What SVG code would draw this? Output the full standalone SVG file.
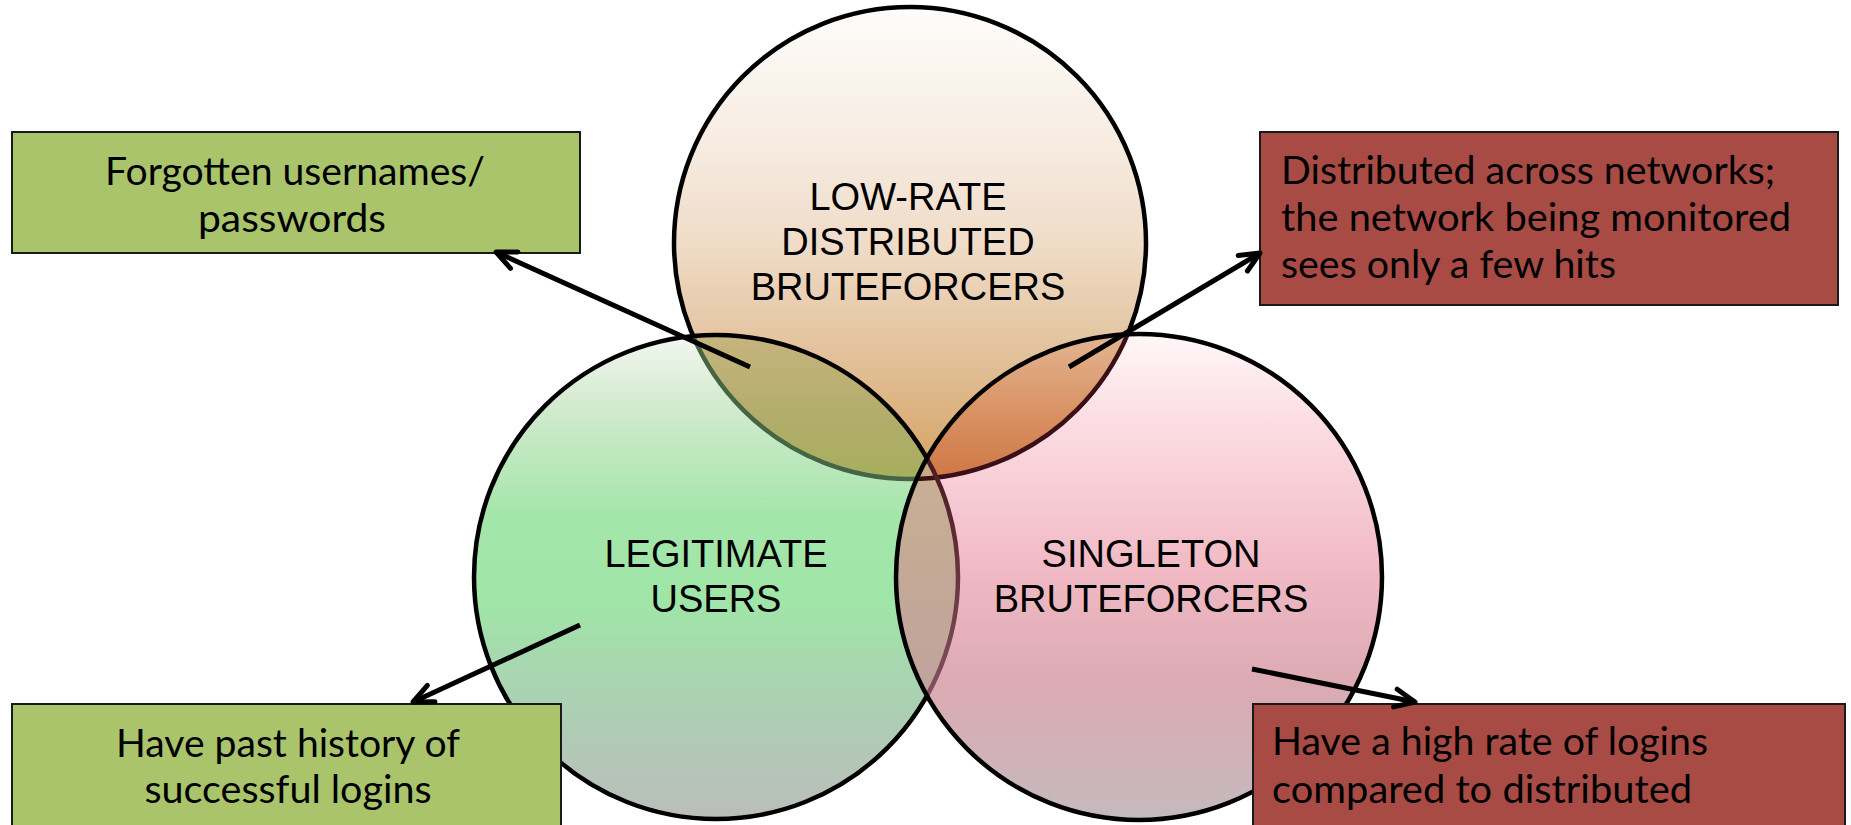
<svg xmlns="http://www.w3.org/2000/svg" width="1851" height="825" viewBox="0 0 1851 825">
  <style>
    .ring { fill: none; stroke: #000; stroke-width: 4.5; }
    .label { font-family: "Liberation Sans", Arial, sans-serif; font-size: 38px; fill: #000; text-anchor: middle; }
    .note { font-family: Lato, "Open Sans", sans-serif; font-size: 39px; fill: #000; }
    .note-c { text-anchor: middle; }
    .box-green { fill: #aac46c; stroke: #1a1a1a; stroke-width: 2; }
    .box-red { fill: #a84b45; stroke: #1a1a1a; stroke-width: 2; }
    .arrow { fill: none; stroke: #000; stroke-width: 5; marker-end: url(#chevron); }
  </style>
  <defs>
    <marker id="chevron" viewBox="-4 -4 30 26" refX="20" refY="9" markerWidth="30" markerHeight="26" markerUnits="userSpaceOnUse" orient="auto" overflow="visible">
      <path d="M0,0 L20,9 L0,18" fill="none" stroke="#000" stroke-width="5" stroke-linecap="round" stroke-linejoin="round"/>
    </marker>

    <!-- circle shapes reused for fills, strokes and clipping -->
    <circle id="shapeTop" cx="910" cy="243" r="236"/>
    <circle id="shapeLeft" cx="716" cy="577" r="242"/>
    <circle id="shapeRight" cx="1139" cy="577" r="243"/>

    <clipPath id="inLeft"><use href="#shapeLeft"/></clipPath>
    <clipPath id="inRight"><use href="#shapeRight"/></clipPath>

    <linearGradient id="gradTop" gradientUnits="userSpaceOnUse" x1="0" y1="7" x2="0" y2="479">
      <stop offset="0" stop-color="#fefdfb"/>
      <stop offset="0.3" stop-color="#f6ebe0"/>
      <stop offset="0.5" stop-color="#f0dcc8"/>
      <stop offset="0.72" stop-color="#e3c39e"/>
      <stop offset="1" stop-color="#d5a262"/>
    </linearGradient>
    <linearGradient id="gradLeft" gradientUnits="userSpaceOnUse" x1="0" y1="335" x2="0" y2="819">
      <stop offset="0" stop-color="#f4f7f2"/>
      <stop offset="0.15" stop-color="#d2eacd"/>
      <stop offset="0.38" stop-color="#a3e6aa"/>
      <stop offset="0.55" stop-color="#a0e5a8"/>
      <stop offset="0.75" stop-color="#abd1b3"/>
      <stop offset="1" stop-color="#bbbdbb"/>
    </linearGradient>
    <linearGradient id="gradRight" gradientUnits="userSpaceOnUse" x1="0" y1="334" x2="0" y2="820">
      <stop offset="0" stop-color="#fff7f8"/>
      <stop offset="0.18" stop-color="#fcdde3"/>
      <stop offset="0.48" stop-color="#f1bac5"/>
      <stop offset="0.72" stop-color="#dcaab3"/>
      <stop offset="1" stop-color="#c4babd"/>
    </linearGradient>
    <linearGradient id="gradTopLeft" gradientUnits="userSpaceOnUse" x1="0" y1="337" x2="0" y2="480">
      <stop offset="0" stop-color="#c6b47e"/>
      <stop offset="0.5" stop-color="#b4ad6c"/>
      <stop offset="1" stop-color="#a6ae5e"/>
    </linearGradient>
    <linearGradient id="gradTopRight" gradientUnits="userSpaceOnUse" x1="0" y1="337" x2="0" y2="478">
      <stop offset="0" stop-color="#e2b490"/>
      <stop offset="0.5" stop-color="#da9466"/>
      <stop offset="1" stop-color="#cf7745"/>
    </linearGradient>
    <linearGradient id="gradLeftRight" gradientUnits="userSpaceOnUse" x1="0" y1="455" x2="0" y2="725">
      <stop offset="0" stop-color="#c8b294"/>
      <stop offset="0.5" stop-color="#c2a896"/>
      <stop offset="1" stop-color="#c0a2a2"/>
    </linearGradient>
    <linearGradient id="gradLeftEdge" gradientUnits="userSpaceOnUse" x1="0" y1="455" x2="0" y2="730">
      <stop offset="0" stop-color="#4a1820"/>
      <stop offset="1" stop-color="#8a5a6a"/>
    </linearGradient>
  </defs>

  <rect x="0" y="0" width="1851" height="825" fill="#fff"/>

  <!-- Low-rate distributed bruteforcers -->
  <g id="node-lowrate">
    <use href="#shapeTop" fill="url(#gradTop)"/>
    <use href="#shapeTop" class="ring"/>
    <text class="label" x="908" y="210">LOW-RATE</text>
    <text class="label" x="908" y="255">DISTRIBUTED</text>
    <text class="label" x="908" y="300">BRUTEFORCERS</text>
  </g>

  <!-- Legitimate users -->
  <g id="node-legitimate">
    <use href="#shapeLeft" fill="url(#gradLeft)"/>
    <use href="#shapeTop" fill="url(#gradTopLeft)" clip-path="url(#inLeft)"/>
    <use href="#shapeTop" class="ring" style="stroke:#456545" clip-path="url(#inLeft)"/>
    <use href="#shapeLeft" class="ring"/>
    <text class="label" x="716" y="567">LEGITIMATE</text>
    <text class="label" x="716" y="612">USERS</text>
  </g>

  <!-- Singleton bruteforcers -->
  <g id="node-singleton">
    <use href="#shapeRight" fill="url(#gradRight)"/>
    <use href="#shapeTop" fill="url(#gradTopRight)" clip-path="url(#inRight)"/>
    <use href="#shapeLeft" fill="url(#gradLeftRight)" clip-path="url(#inRight)"/>
    <g clip-path="url(#inRight)">
      <use href="#shapeTop" fill="#c8aa86" clip-path="url(#inLeft)"/>
    </g>
    <use href="#shapeTop" class="ring" style="stroke:#3a1016" clip-path="url(#inRight)"/>
    <use href="#shapeLeft" class="ring" style="stroke:url(#gradLeftEdge)" clip-path="url(#inRight)"/>
    <use href="#shapeRight" class="ring"/>
    <text class="label" x="1151" y="567">SINGLETON</text>
    <text class="label" x="1151" y="612">BRUTEFORCERS</text>
  </g>

  <!-- annotation boxes -->
  <g id="note-forgotten">
    <rect class="box-green" x="12" y="132" width="568" height="121"/>
    <text class="note note-c" x="295" y="185" textLength="380" lengthAdjust="spacingAndGlyphs">Forgotten usernames/</text>
    <text class="note note-c" x="292" y="232" textLength="188" lengthAdjust="spacingAndGlyphs">passwords</text>
  </g>

  <g id="note-distributed">
    <rect class="box-red" x="1260" y="132" width="578" height="173"/>
    <text class="note" x="1281" y="184" textLength="494" lengthAdjust="spacingAndGlyphs">Distributed across networks;</text>
    <text class="note" x="1281" y="231" textLength="510" lengthAdjust="spacingAndGlyphs">the network being monitored</text>
    <text class="note" x="1281" y="278" textLength="335" lengthAdjust="spacingAndGlyphs">sees only a few hits</text>
  </g>

  <g id="note-history">
    <rect class="box-green" x="12" y="704" width="549" height="140"/>
    <text class="note note-c" x="288" y="757" textLength="344" lengthAdjust="spacingAndGlyphs">Have past history of</text>
    <text class="note note-c" x="288" y="803" textLength="287" lengthAdjust="spacingAndGlyphs">successful logins</text>
  </g>

  <g id="note-rate">
    <rect class="box-red" x="1253" y="704" width="592" height="140"/>
    <text class="note" x="1272" y="755" textLength="436" lengthAdjust="spacingAndGlyphs">Have a high rate of logins</text>
    <text class="note" x="1272" y="803" textLength="420" lengthAdjust="spacingAndGlyphs">compared to distributed</text>
  </g>

  <!-- connectors -->
  <g id="connectors">
    <line class="arrow" x1="750" y1="367" x2="496" y2="252"/>
    <line class="arrow" x1="1069" y1="367" x2="1260" y2="253"/>
    <line class="arrow" x1="580" y1="625" x2="413" y2="702"/>
    <line class="arrow" x1="1252" y1="669" x2="1415" y2="702"/>
  </g>
</svg>
